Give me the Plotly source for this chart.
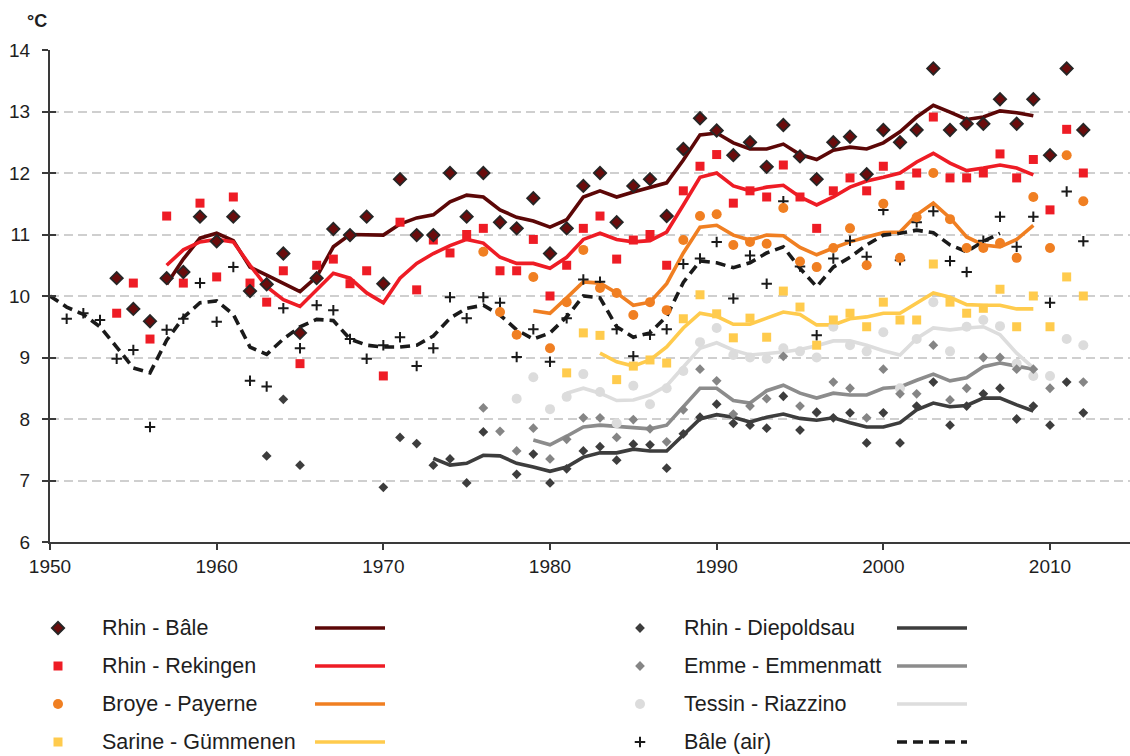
import plotly.graph_objects as go

# ---------------------------------------------------------------
# Annual mean water temperatures (°C) and air temperature at Bâle
# ---------------------------------------------------------------
years_rhin_bale = list(range(1954, 2013))
rhin_bale = [10.29, 9.79, 9.59, 10.29, 10.39, 11.29, 10.89, 11.29, 10.08, 10.19,
             10.69, 9.40, 10.29, 11.09, 10.99, 11.29, 10.20, 11.90, 10.99, 10.99,
             12.00, 11.29, 12.00, 11.20, 11.10, 11.59, 10.69, 11.10, 11.79, 12.00,
             11.20, 11.79, 11.90, 11.30, 12.39, 12.89, 12.69, 12.29, 12.50, 12.10,
             12.78, 12.27, 11.90, 12.50, 12.59, 11.98, 12.70, 12.50, 12.70, 13.70,
             12.70, 12.80, 12.80, 13.20, 12.80, 13.20, 12.29, 13.70, 12.70]

years_rekingen = list(range(1954, 2013))
rhin_rekingen = [9.72, 10.21, 9.30, 11.30, 10.21, 11.51, 10.31, 11.61, 10.21, 9.90,
                 10.41, 8.90, 10.50, 10.60, 10.20, 10.41, 8.70, 11.20, 10.10, 10.91,
                 10.70, 11.00, 11.10, 10.41, 10.41, 10.92, 10.00, 10.50, 11.10, 11.30,
                 10.60, 10.91, 11.00, 10.50, 11.71, 12.11, 12.30, 11.51, 11.71, 11.61,
                 12.13, 11.61, 11.10, 11.71, 11.92, 11.71, 12.11, 11.80, 12.00, 12.91,
                 11.92, 11.92, 12.00, 12.31, 11.92, 12.22, 11.40, 12.71, 12.00]

years_broye = list(range(1976, 2013))
broye_payerne = [10.72, 9.74, 9.37, 10.31, 9.15, 9.90, 10.75, 10.13, 10.05, 9.69,
                 9.90, 9.77, 10.91, 11.30, 11.33, 10.83, 10.88, 10.85, 11.43, 10.56,
                 10.47, 10.78, 11.10, 10.50, 11.50, 10.62, 11.28, 12.00, 11.25, 10.78,
                 10.78, 10.86, 10.62, 11.61, 10.78, 12.29, 11.54]

years_sarine = list(range(1981, 2013))
sarine_gummenen = [8.75, 9.40, 9.36, 8.64, 8.86, 8.96, 8.91, 9.63, 10.02, 9.71,
                   9.32, 9.64, 9.33, 10.08, 9.82, 9.20, 9.61, 9.72, 9.50, 9.90,
                   9.61, 9.61, 10.52, 9.90, 9.72, 9.80, 10.11, 9.50, 10.00, 9.50,
                   10.31, 10.00]

years_diepoldsau = [1963, 1964, 1965] + list(range(1970, 2013))
rhin_diepoldsau = [7.40, 8.32, 7.25,
                   6.89, 7.70, 7.60, 7.25, 7.35, 6.96, 7.79, None, 7.10, 7.43,
                   6.96, 7.19, 7.48, 7.55, 7.33, 7.59, 7.58, 7.20, 7.76, 8.03,
                   8.24, 7.93, 7.90, 7.85, 8.37, 7.82, 8.11, 8.02, 8.10, 7.61,
                   8.10, 7.61, 8.21, 8.60, 7.90, 8.21, 8.41, 8.50, 8.00, 8.21,
                   7.90, 8.60, 8.10]

years_emme = list(range(1976, 2013))
emme_emmenmatt = [8.18, 7.80, 7.48, 7.85, 7.35, 7.67, 8.02, 8.02, 7.70, 7.99,
                  7.84, 7.63, 8.15, 8.81, 8.62, 8.08, 8.21, 8.33, 9.02, 8.21,
                  8.10, 8.60, 8.50, 8.02, 8.81, 8.41, 8.41, 9.20, 8.31, 8.50,
                  9.00, 9.00, 8.81, 8.81, 8.50, None, 8.60]

years_tessin = list(range(1978, 2013))
tessin_riazzino = [8.33, 8.68, 8.16, 8.36, 8.73, 8.44, 7.93, 8.54, 8.24, 8.50,
                   8.78, 9.25, 9.48, 9.04, 9.00, 8.98, 9.15, 9.10, 9.00, 9.50,
                   9.20, 9.10, 9.41, 8.50, 9.30, 9.90, 9.10, 9.50, 9.61, 9.51,
                   8.90, 8.70, 8.70, 9.30, 9.20]

years_air = list(range(1951, 2013))
bale_air = [9.63, 9.72, 9.61, 8.98, 9.12, 7.87, 9.45, 9.63, 10.21, 9.58,
            10.47, 8.62, 8.53, 9.80, 9.15, 9.85, 9.77, 9.30, 8.98, 9.20,
            9.33, 8.86, 9.15, 9.98, 9.64, 9.98, 9.89, 9.01, 9.46, 8.93,
            9.64, 10.27, 10.23, 9.46, 9.02, 9.37, 9.46, 10.52, 10.61, 10.88,
            9.96, 10.66, 10.20, 11.54, 10.48, 9.36, 10.61, 10.90, 10.64, 11.40,
            10.58, 11.20, 11.38, 10.57, 10.39, 10.90, 11.29, 10.80, 11.29, 9.89,
            11.70, 10.89]

# Smoothed (running mean) curves
years_rhin_bale_avg = list(range(1957, 2010))
rhin_bale_avg = [10.19, 10.60, 10.94, 11.02, 10.90, 10.47, 10.34, 10.21, 10.07, 10.31,
                 10.80, 11.00, 10.99, 10.99, 11.17, 11.27, 11.32, 11.53, 11.64, 11.61,
                 11.40, 11.28, 11.22, 11.12, 11.24, 11.61, 11.71, 11.61, 11.69, 11.77,
                 11.84, 12.21, 12.62, 12.65, 12.49, 12.39, 12.39, 12.47, 12.30, 12.22,
                 12.37, 12.42, 12.39, 12.49, 12.67, 12.91, 13.10, 12.99, 12.87, 12.91,
                 13.01, 12.98, 12.93]

years_rekingen_avg = list(range(1957, 2010))
rekingen_avg = [10.50, 10.75, 10.88, 10.92, 10.88, 10.50, 10.15, 9.94, 9.83, 10.10,
                10.37, 10.29, 10.05, 9.89, 10.29, 10.53, 10.69, 10.82, 10.92, 10.86,
                10.63, 10.53, 10.53, 10.45, 10.63, 10.92, 11.02, 10.92, 10.88, 10.90,
                11.04, 11.48, 11.93, 12.00, 11.79, 11.71, 11.77, 11.80, 11.61, 11.48,
                11.61, 11.77, 11.87, 11.93, 12.00, 12.18, 12.32, 12.16, 12.04, 12.08,
                12.13, 12.08, 11.97]

years_broye_avg = list(range(1979, 2010))
broye_avg = [9.76, 9.72, 9.97, 10.23, 10.21, 10.05, 9.85, 9.90, 10.20, 10.70,
             11.12, 11.15, 10.99, 10.91, 10.99, 10.98, 10.79, 10.67, 10.78, 10.88,
             10.96, 11.03, 11.04, 11.32, 11.51, 11.27, 10.96, 10.83, 10.80, 10.92,
             11.15]

years_sarine_avg = list(range(1983, 2010))
sarine_avg = [9.07, 8.93, 8.86, 8.96, 9.17, 9.48, 9.72, 9.67, 9.54, 9.54,
              9.64, 9.74, 9.70, 9.53, 9.53, 9.63, 9.66, 9.72, 9.72, 9.88,
              10.05, 9.98, 9.86, 9.85, 9.85, 9.79, 9.79]

years_diepoldsau_avg = list(range(1973, 2010))
diepoldsau_avg = [7.36, 7.25, 7.28, 7.41, 7.40, 7.28, 7.22, 7.15, 7.22, 7.38,
                  7.45, 7.45, 7.51, 7.48, 7.48, 7.74, 8.00, 8.07, 8.03, 7.95,
                  8.03, 8.08, 8.01, 7.98, 8.02, 7.94, 7.87, 7.87, 7.94, 8.15,
                  8.26, 8.20, 8.22, 8.34, 8.34, 8.23, 8.13]

years_emme_avg = list(range(1979, 2010))
emme_avg = [7.66, 7.58, 7.72, 7.87, 7.90, 7.88, 7.87, 7.84, 7.90, 8.20,
            8.50, 8.50, 8.30, 8.26, 8.46, 8.55, 8.42, 8.34, 8.42, 8.39,
            8.39, 8.50, 8.52, 8.63, 8.73, 8.62, 8.67, 8.85, 8.91, 8.86,
            8.81]

years_tessin_avg = list(range(1981, 2010))
tessin_avg = [8.42, 8.50, 8.42, 8.30, 8.31, 8.39, 8.54, 8.85, 9.15, 9.24,
              9.12, 9.04, 9.06, 9.09, 9.13, 9.19, 9.27, 9.27, 9.20, 9.11,
              9.04, 9.31, 9.48, 9.45, 9.48, 9.50, 9.37, 9.07, 8.83]

years_air_avg = list(range(1950, 2008))
bale_air_avg = [10.00, 9.82, 9.70, 9.50, 9.17, 8.83, 8.75, 9.28, 9.65, 9.89,
                9.92, 9.70, 9.17, 9.05, 9.30, 9.50, 9.62, 9.60, 9.30, 9.20,
                9.17, 9.17, 9.20, 9.35, 9.64, 9.80, 9.85, 9.69, 9.45, 9.30,
                9.40, 9.66, 10.00, 9.97, 9.50, 9.33, 9.40, 9.67, 10.22, 10.57,
                10.54, 10.46, 10.54, 10.70, 10.80, 10.45, 10.15, 10.47, 10.63, 10.83,
                10.99, 11.02, 11.07, 11.03, 10.83, 10.72, 10.89, 11.02]

x_ticks = [1950, 1960, 1970, 1980, 1990, 2000, 2010]
y_ticks = [6, 7, 8, 9, 10, 11, 12, 13, 14]

FONT = "Liberation Sans, Arial, sans-serif"
TEXT_COLOR = "#1e1e1e"

# name, point years, point values, curve years, curve values, marker style, line style
series = [
    ("Rhin - Bâle", years_rhin_bale, rhin_bale, years_rhin_bale_avg, rhin_bale_avg,
     dict(symbol="diamond", size=9.5, color="#6a0c0c", line=dict(color="#262626", width=1.8)),
     dict(color="#5c0707", width=3.6)),
    ("Rhin - Rekingen", years_rekingen, rhin_rekingen, years_rekingen_avg, rekingen_avg,
     dict(symbol="square", size=9, color="#ee1c25", line=dict(width=0)),
     dict(color="#ee1c25", width=3.6)),
    ("Broye - Payerne", years_broye, broye_payerne, years_broye_avg, broye_avg,
     dict(symbol="circle", size=10, color="#f07f22", line=dict(width=0)),
     dict(color="#f07f22", width=3.6)),
    ("Sarine - Gümmenen", years_sarine, sarine_gummenen, years_sarine_avg, sarine_avg,
     dict(symbol="square", size=9, color="#ffcb4d", line=dict(width=0)),
     dict(color="#ffcb4d", width=3.6)),
    ("Rhin - Diepoldsau", years_diepoldsau, rhin_diepoldsau, years_diepoldsau_avg, diepoldsau_avg,
     dict(symbol="diamond", size=7.5, color="#3d3d3d", line=dict(width=0)),
     dict(color="#3d3d3d", width=3.6)),
    ("Emme - Emmenmatt", years_emme, emme_emmenmatt, years_emme_avg, emme_avg,
     dict(symbol="diamond", size=7.5, color="#858585", line=dict(width=0)),
     dict(color="#8c8c8c", width=3.6)),
    ("Tessin - Riazzino", years_tessin, tessin_riazzino, years_tessin_avg, tessin_avg,
     dict(symbol="circle", size=10, color="#dcdcdc", line=dict(width=0)),
     dict(color="#dddddd", width=3.6)),
    ("Bâle (air)", years_air, bale_air, years_air_avg, bale_air_avg,
     dict(symbol="cross-thin", size=7.5, color="#1a1a1a", line=dict(color="#1a1a1a", width=2)),
     dict(color="#1a1a1a", width=3.6, dash="10px,6px")),
]

fig = go.Figure()

# smoothed curves underneath
for name, _, _, cy, cv, _, ls in series:
    fig.add_trace(go.Scatter(x=cy, y=cv, mode="lines", line=ls, name=name,
                             showlegend=False, hoverinfo="skip"))

# annual values on top
for name, py, pv, _, _, ms, _ in reversed(series):
    fig.add_trace(go.Scatter(x=py, y=pv, mode="markers", marker=ms, name=name,
                             showlegend=False))

# ---- page geometry (pixels) ----
W, H = 1130, 756
TOP, BOTTOM_PAD = 50, 10
plot_bottom = 542
area_bottom = H - BOTTOM_PAD
main_lo = (area_bottom - plot_bottom) / (area_bottom - TOP)

# ---- hand-laid legend in the lower band (pixel-scaled helper axes) ----
rows = [628, 666, 704, 742]
columns = [(58, 100, 315, 385), (640, 682, 897, 967)]
shapes = []
annotations = []
for i, (name, _, _, _, _, ms, ls) in enumerate(series):
    mx, tx, l0, l1 = columns[i // 4]
    ry = rows[i % 4]
    fig.add_trace(go.Scatter(x=[mx], y=[ry], mode="markers", marker=ms, cliponaxis=False,
                             xaxis="x2", yaxis="y2", showlegend=False, hoverinfo="skip"))
    annotations.append(dict(x=tx, y=ry, xref="x2", yref="y2", text=name, showarrow=False,
                            xanchor="left", yanchor="middle",
                            font=dict(family=FONT, size=21.5, color=TEXT_COLOR)))
    shapes.append(dict(type="line", xref="x2", yref="y2", x0=l0, x1=l1, y0=ry, y1=ry,
                       line=dict(color=ls["color"], width=ls["width"],
                                 dash=ls.get("dash", "solid"))))

annotations.append(dict(x=0, y=1, xref="paper", yref="paper", text="<b>°C</b>",
                        showarrow=False, xanchor="center", yanchor="bottom", xshift=-13, yshift=17,
                        font=dict(family=FONT, size=18, color=TEXT_COLOR)))

fig.update_layout(
    width=W, height=H,
    margin=dict(l=50, r=0, t=TOP, b=BOTTOM_PAD),
    paper_bgcolor="white", plot_bgcolor="white",
    font=dict(family=FONT, color=TEXT_COLOR),
    showlegend=False,
    shapes=shapes,
    annotations=annotations,
    xaxis=dict(domain=[0, 1], range=[1950, 2014.8], tickvals=x_ticks,
               ticks="outside", ticklen=6, tickwidth=2, tickcolor="#3a3a3a",
               showline=True, linecolor="#3a3a3a", linewidth=2, showgrid=False,
               zeroline=False, anchor="y", ticklabelstandoff=0,
               tickfont=dict(family=FONT, size=19, color=TEXT_COLOR)),
    yaxis=dict(domain=[main_lo, 1], range=[6, 14], tickvals=y_ticks,
               ticks="outside", ticklen=6, tickwidth=2, tickcolor="#3a3a3a",
               showline=True, linecolor="#3a3a3a", linewidth=2,
               showgrid=True, gridcolor="#cfcfcf", gridwidth=2, griddash="9px,5px",
               zeroline=False, anchor="x", ticklabelstandoff=8,
               tickfont=dict(family=FONT, size=19, color=TEXT_COLOR)),
    yaxis3=dict(overlaying="y", range=[6, 14], tickvals=y_ticks, ticks="inside",
                ticklen=6, tickwidth=2, tickcolor="#3a3a3a", showticklabels=False,
                showgrid=False, zeroline=False, showline=False, anchor="x"),
    xaxis2=dict(domain=[0, 1], range=[50, 1130], visible=False, anchor="y2"),
    yaxis2=dict(domain=[0, main_lo], range=[area_bottom, plot_bottom], visible=False, anchor="x2"),
)

# empty trace so the inner tick axis is rendered
fig.add_trace(go.Scatter(x=[None], y=[None], yaxis="y3", showlegend=False))

fig.write_html("out.html")
